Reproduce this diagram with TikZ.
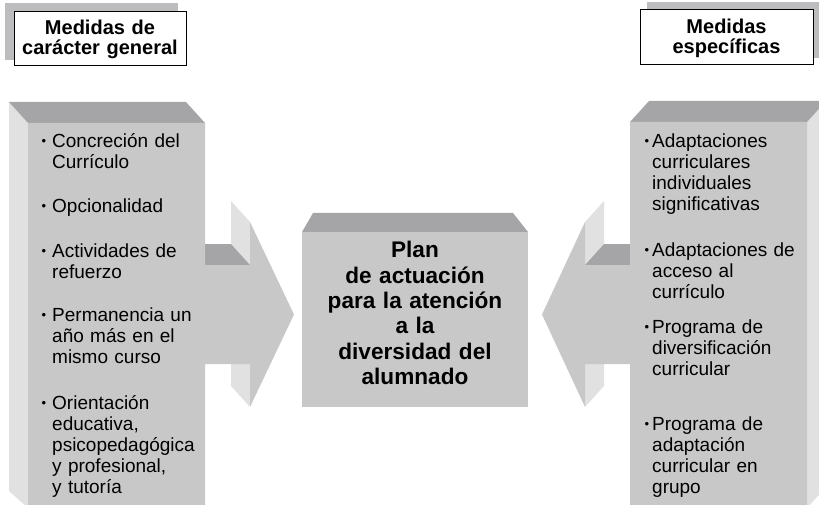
\documentclass[tikz,border=0pt]{standalone}
\usepackage{fontspec}
\setmainfont{Liberation Sans}
\definecolor{frontc}{HTML}{C8C8C9}
\definecolor{topc}{HTML}{A5A5A7}
\definecolor{sidec}{HTML}{E1E1E2}
\definecolor{hdrback}{HTML}{BDBDBF}
\newcommand{\bul}[1]{\llap{\raisebox{1.6pt}{\fontsize{13}{13}\selectfont •}\hspace{#1}}}
\begin{document}
\begin{tikzpicture}[x=1pt,y=-1pt,
  front/.style={fill=frontc},
  topface/.style={fill=topc},
  sideface/.style={fill=sidec},
  hdrbox/.style={fill=white,draw=black,line width=1pt},
  hdrtext/.style={anchor=base,inner sep=0pt,text width=170pt,align=center,
    font=\fontsize{20}{20}\selectfont\bfseries},
  itemtext/.style={anchor=base west,inner sep=0pt,text width=170pt,align=left,
    font=\fontsize{19}{21}\selectfont},
  plantext/.style={anchor=base,inner sep=0pt,text width=220pt,align=center,
    font=\fontsize{22.6}{25.3}\selectfont\bfseries}]
\useasboundingbox (0,0) rectangle (819,505);
\begin{scope}
\clip (0,0) rectangle (819,505);
% headers
\fill[hdrback] (5,3) rectangle (178,60);
\draw[hdrbox] (14,12) rectangle (186,66);
\fill[hdrback] (647,2) rectangle (822,58);
\draw[hdrbox] (640,10) rectangle (813,64.5);
% left block
\fill[sideface] (9,102) -- (28,123) -- (28,508) -- (9,491) -- cycle;
\fill[topface] (9,102) -- (186,102) -- (205,123) -- (28,123) -- cycle;
\fill[sideface] (231,201) -- (250,222) -- (250,265) -- (231,244) -- cycle;
\fill[topface] (186,244) -- (231,244) -- (250,265) -- (205,265) -- cycle;
\fill[sideface] (231,343) -- (250,364) -- (250,407) -- (231,386) -- cycle;
\fill[front] (28,123) -- (205,123) -- (205,265) -- (250,265) -- (250,222)
  -- (294,314.5) -- (250,407) -- (250,364) -- (205,364) -- (205,512)
  -- (28,512) -- cycle;
% right block
\fill[sideface] (807,122) -- (826,101) -- (826,487) -- (807,508) -- cycle;
\fill[topface] (630,122) -- (807,122) -- (826,101) -- (649,101) -- cycle;
\fill[sideface] (604,201) -- (585,222) -- (585,265) -- (604,244) -- cycle;
\fill[topface] (585,265) -- (604,244) -- (649,244) -- (630,265) -- cycle;
\fill[sideface] (604,343) -- (585,364) -- (585,407) -- (604,386) -- cycle;
\fill[front] (630,122) -- (807,122) -- (807,512) -- (630,512) -- (630,364)
  -- (585,364) -- (585,407) -- (542,314.5) -- (585,222) -- (585,265)
  -- (630,265) -- cycle;
% centre box
\fill[topface] (313,213) -- (513,213) -- (528,232) -- (302,232) -- cycle;
\fill[front] (302,232) rectangle (528,407);
\end{scope}
% header texts
\node[hdrtext] (hl) at (100,35) {Medidas de\\carácter general};
\node[hdrtext] (hr) at (726.5,33.3) {Medidas\\específicas};
% left items
\node[itemtext] (l1) at (52,147.5) {\bul{6pt}Concreción del\\Currículo};
\node[itemtext] (l2) at (52,212) {\bul{6pt}Opcionalidad};
\node[itemtext] (l3) at (52,257.5) {\bul{6pt}Actividades de\\refuerzo};
\node[itemtext] (l4) at (52,321) {\bul{6pt}Permanencia un\\año más en el\\mismo curso};
\node[itemtext] (l5) at (52,409.5) {\bul{6pt}Orientación\\educativa,\\psicopedagógica\\y profesional,\\y tutoría};
% right items
\node[itemtext] (r1) at (652,147.5) {\bul{3pt}Adaptaciones\\curriculares\\individuales\\significativas};
\node[itemtext] (r2) at (652,256) {\bul{3pt}Adaptaciones de\\acceso al\\currículo};
\node[itemtext] (r3) at (652,333) {\bul{3pt}Programa de\\diversificación\\curricular};
\node[itemtext] (r4) at (652,430.5) {\bul{3pt}Programa de\\adaptación\\curricular en\\grupo};
% centre text
\node[plantext] (plan) at (415,258) {Plan\\de actuación\\para la atención\\a la\\diversidad del\\alumnado};
\end{tikzpicture}
\end{document}
